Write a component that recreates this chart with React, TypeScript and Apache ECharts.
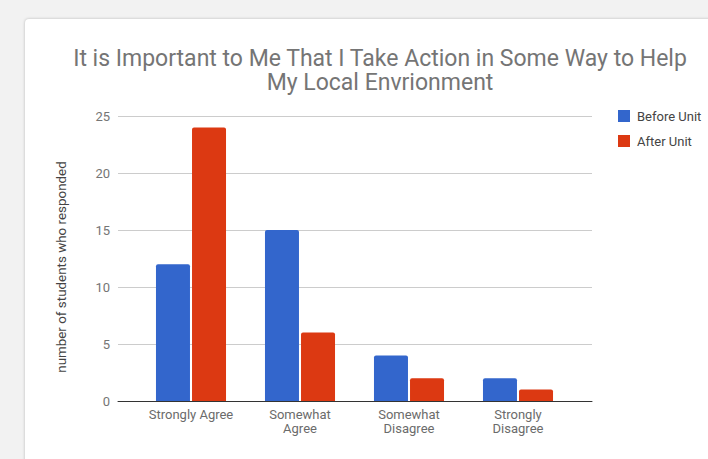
import React, { useEffect, useRef } from "react";
import * as echarts from "echarts";

const categories = ["Strongly Agree", "Somewhat\nAgree", "Somewhat\nDisagree", "Strongly\nDisagree"];
const beforeUnit = [12, 15, 4, 2];
const afterUnit = [24, 6, 2, 1];
const titleLines = ["It is Important to Me That I Take Action in Some Way to Help", "My Local Envrionment"];
const yAxisName = "number of students who responded";

export default function App() {
  const ref = useRef<HTMLDivElement>(null);
  useEffect(() => {
    if (!ref.current) return;
    const chart = echarts.init(ref.current, null, { renderer: "svg" });
    const font = "Roboto, 'Noto Sans', Arial, sans-serif";
    chart.setOption({
      animation: false,
      textStyle: { fontFamily: font },
      graphic: [
        {
          type: "text",
          x: 380,
          y: 58,
          style: {
            text: titleLines[0],
            fill: "#757575",
            font: `23px ${font}`,
            textAlign: "center",
            textVerticalAlign: "middle",
          },
        },
        {
          type: "text",
          x: 380,
          y: 82.5,
          style: {
            text: titleLines[1],
            fill: "#757575",
            font: `23px ${font}`,
            textAlign: "center",
            textVerticalAlign: "middle",
          },
        },
        {
          type: "text",
          x: 61,
          y: 267,
          rotation: Math.PI / 2,
          style: {
            text: yAxisName,
            fill: "#444",
            font: `13.4px ${font}`,
            textAlign: "center",
            textVerticalAlign: "middle",
          },
        },
      ],
      legend: {
        orient: "vertical",
        left: 613,
        top: 104,
        itemWidth: 12,
        itemHeight: 12,
        itemGap: 11,
        icon: "rect",
        textStyle: { fontSize: 13, color: "#444", fontFamily: font, lineHeight: 14, padding: [0, 0, 0, 2] },
        data: ["Before Unit", "After Unit"],
      },
      grid: [
        { left: 118, right: 116, top: 116, bottom: 58 },
        { left: 136.5, right: 135.5, top: 116, bottom: 58 },
      ],
      xAxis: [
        {
          gridIndex: 0,
          type: "value",
          min: 0,
          max: 1,
          axisLine: { show: true, onZero: false, lineStyle: { color: "#333", width: 1 } },
          axisTick: { show: false },
          axisLabel: { show: false },
          splitLine: { show: false },
        },
        {
          gridIndex: 1,
          type: "category",
          data: categories,
          axisLine: { show: false },
          axisTick: { show: false },
          axisLabel: { fontSize: 13, color: "#6b6b6b", lineHeight: 14, margin: 6, fontFamily: font, interval: 0 },
        },
      ],
      yAxis: [
        {
          gridIndex: 0,
          type: "value",
          min: 0,
          max: 25,
          interval: 5,
          axisLine: { show: false },
          axisTick: { show: false },
          axisLabel: { fontSize: 13, color: "#757575", margin: 8, fontFamily: font },
          splitLine: { show: true, lineStyle: { color: "#cccccc", width: 1 } },
        },
        {
          gridIndex: 1,
          type: "value",
          min: 0,
          max: 25,
          interval: 5,
          show: false,
          splitLine: { show: false },
        },
      ],
      series: [
        {
          name: "Before Unit",
          type: "bar",
          xAxisIndex: 1,
          yAxisIndex: 1,
          data: beforeUnit,
          barWidth: 34,
          barGap: "6%",
          itemStyle: { color: "#3366cc", borderRadius: [2, 2, 0, 0] },
        },
        {
          name: "After Unit",
          type: "bar",
          xAxisIndex: 1,
          yAxisIndex: 1,
          data: afterUnit,
          barWidth: 34,
          barGap: "6%",
          itemStyle: { color: "#dc3912", borderRadius: [2, 2, 0, 0] },
        },
      ],
    });
    return () => chart.dispose();
  }, []);
  return (
    <div style={{ position: "fixed", left: 0, top: 0, width: 708, height: 459, background: "#f2f2f2", overflow: "hidden" }}>
      <div
        style={{
          position: "absolute",
          left: 25,
          top: 19,
          width: 700,
          height: 460,
          background: "#ffffff",
          borderRadius: 4,
          boxShadow: "0 0 3px rgba(0,0,0,0.25)",
        }}
      />
      <div ref={ref} style={{ position: "absolute", left: 0, top: 0, width: 708, height: 459 }} />
    </div>
  );
}
